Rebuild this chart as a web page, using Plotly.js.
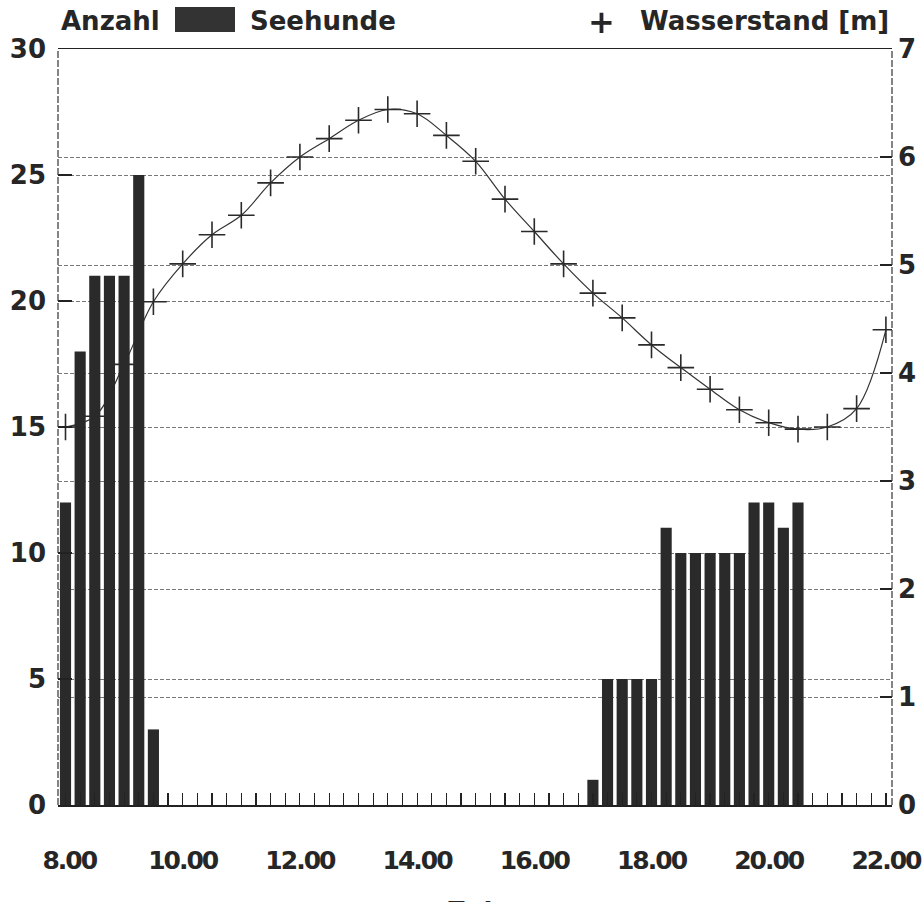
<!DOCTYPE html>
<html>
<head>
<meta charset="utf-8">
<script src="https://cdn.plot.ly/plotly-3.0.1.min.js"></script>
<style>
html,body{margin:0;padding:0;background:#fff;overflow:hidden;}
.xtick text{letter-spacing:-2px;}
</style>
</head>
<body>
<div id="chart" style="width:940px;height:902px;"></div>
<script>
// Seehunde (count) per quarter hour
const sealTimes = [8.00, 8.25, 8.50, 8.75, 9.00, 9.25, 9.50,
                   17.00, 17.25, 17.50, 17.75, 18.00, 18.25, 18.50, 18.75, 19.00, 19.25, 19.50, 19.75, 20.00, 20.25, 20.50];
const sealCounts = [12, 18, 21, 21, 21, 25, 3,
                    1, 5, 5, 5, 5, 11, 10, 10, 10, 10, 10, 12, 12, 11, 12];

// Wasserstand [m] per half hour
const levelTimes = [8.0, 8.5, 9.0, 9.5, 10.0, 10.5, 11.0, 11.5, 12.0, 12.5, 13.0, 13.5, 14.0, 14.5,
                    15.0, 15.5, 16.0, 16.5, 17.0, 17.5, 18.0, 18.5, 19.0, 19.5, 20.0, 20.5, 21.0, 21.5, 22.0];
const levelValues = [3.50, 3.60, 4.08, 4.66, 5.01, 5.28, 5.46, 5.76, 6.00, 6.17, 6.34, 6.44, 6.40, 6.20,
                     5.96, 5.61, 5.31, 5.01, 4.74, 4.51, 4.26, 4.05, 3.85, 3.66, 3.54, 3.48, 3.50, 3.67, 4.40];

// Axis ticks
const xTickVals = [8, 10, 12, 14, 16, 18, 20, 22];
const xTickText = ['\u20088.00', '10.00', '12.00', '14.00', '16.00', '18.00', '20.00', '22.00'];
const countTicks = [0, 5, 10, 15, 20, 25, 30];
const levelTicks = [0, 1, 2, 3, 4, 5, 6, 7];

const FONT = 'DejaVu Sans, Liberation Sans, Arial, sans-serif';
const INK = '#2a2a2a';
const TXT = '#262626';

const traces = [
  {
    type: 'scatter',
    x: levelTimes,
    y: levelValues,
    yaxis: 'y',
    mode: 'lines+markers',
    line: {shape: 'spline', smoothing: 1, color: '#333', width: 1.2},
    marker: {symbol: 'cross-thin', size: 19, line: {color: INK, width: 1.6}},
    name: 'Wasserstand [m]',
    hoverinfo: 'x+y'
  },
  {
    type: 'bar',
    x: sealTimes,
    y: sealCounts,
    yaxis: 'y2',
    width: 0.19,
    marker: {color: INK, line: {width: 0}},
    name: 'Seehunde',
    hoverinfo: 'x+y'
  }
];

const tickFont = {family: FONT, size: 26, color: TXT, weight: 'bold'};
const xTickFont = {family: FONT, size: 25, color: TXT, weight: 'bold'};
const headFont = {family: FONT, size: 26, color: TXT, weight: 'bold'};

const layout = {
  width: 940,
  height: 902,
  margin: {l: 58, r: 48, t: 49, b: 97},
  paper_bgcolor: '#fff',
  plot_bgcolor: '#fff',
  showlegend: false,
  xaxis: {
    range: [7.872, 22.104],
    automargin: false,
    tickmode: 'array',
    tickvals: xTickVals,
    ticktext: xTickText,
    ticks: 'inside',
    ticklen: 12,
    tickwidth: 1.2,
    tickcolor: '#222',
    minor: {tickmode: 'linear', tick0: 8, dtick: 0.25, ticks: 'inside', ticklen: 12, tickwidth: 1.2, tickcolor: '#222', showgrid: false},
    showgrid: false,
    zeroline: false,
    showline: true,
    mirror: true,
    linecolor: '#222',
    linewidth: 1.5,
    tickfont: xTickFont,
    ticklabelstandoff: 32
  },
  yaxis: {
    side: 'right',
    range: [0, 7],
    automargin: false,
    tickmode: 'array',
    tickvals: levelTicks,
    ticks: 'inside',
    ticklen: 12,
    tickwidth: 1.2,
    tickcolor: '#222',
    showline: false,
    zeroline: false,
    showgrid: true,
    gridcolor: '#777',
    gridwidth: 1,
    griddash: '4px,2px',
    tickfont: tickFont,
    ticklabelstandoff: 5
  },
  yaxis2: {
    side: 'left',
    overlaying: 'y',
    range: [0, 30],
    automargin: false,
    tickmode: 'array',
    tickvals: countTicks,
    ticks: 'inside',
    ticklen: 14,
    tickwidth: 1.2,
    tickcolor: '#222',
    showline: false,
    zeroline: false,
    showgrid: true,
    gridcolor: '#777',
    gridwidth: 1,
    griddash: '4px,2px',
    tickfont: tickFont,
    ticklabelstandoff: 11,
    ticklabeloverflow: 'allow'
  },
  shapes: [
    {type: 'line', xref: 'paper', yref: 'paper', x0: 0, x1: 0, y0: 0, y1: 1,
     line: {color: '#333', width: 1.2, dash: '7px,2px'}},
    {type: 'line', xref: 'paper', yref: 'paper', x0: 1, x1: 1, y0: 0, y1: 1,
     line: {color: '#333', width: 1.2, dash: '7px,2px'}},
    // legend swatch for Seehunde
    {type: 'rect', xref: 'paper', yref: 'paper',
     x0: (175 - 58) / 834, x1: (235 - 58) / 834, y0: 1 + (49 - 32) / 756, y1: 1 + (49 - 7) / 756,
     line: {width: 0}, fillcolor: '#333'}
  ],
  annotations: [
    {text: 'Anzahl', xref: 'paper', yref: 'paper', x: (59 - 58) / 834, y: 1 + (49 - 21) / 756,
     xanchor: 'left', yanchor: 'middle', showarrow: false, font: headFont},
    {text: 'Seehunde', xref: 'paper', yref: 'paper', x: (248 - 58) / 834, y: 1 + (49 - 21) / 756,
     xanchor: 'left', yanchor: 'middle', showarrow: false, font: headFont},
    {text: '+', xref: 'paper', yref: 'paper', x: (601 - 58) / 834, y: 1 + (49 - 22) / 756,
     xanchor: 'center', yanchor: 'middle', showarrow: false,
     font: {family: FONT, size: 32, color: TXT, weight: 'bold'}},
    {text: 'Wasserstand [m]', xref: 'paper', yref: 'paper', x: (891 - 58) / 834, y: 1 + (49 - 21) / 756,
     xanchor: 'right', yanchor: 'middle', showarrow: false, font: headFont},
    // x axis title (offset compensates the observed upward shift when 22.00 is drawn)
    {text: 'Zeit', xref: 'paper', yref: 'paper', x: (476 - 58) / 834, y: -(912 - 805) / 756,
     xanchor: 'center', yanchor: 'middle', showarrow: false, font: headFont}
  ]
};

Plotly.newPlot('chart', traces, layout, {displayModeBar: false, staticPlot: true});
</script>
</body>
</html>
